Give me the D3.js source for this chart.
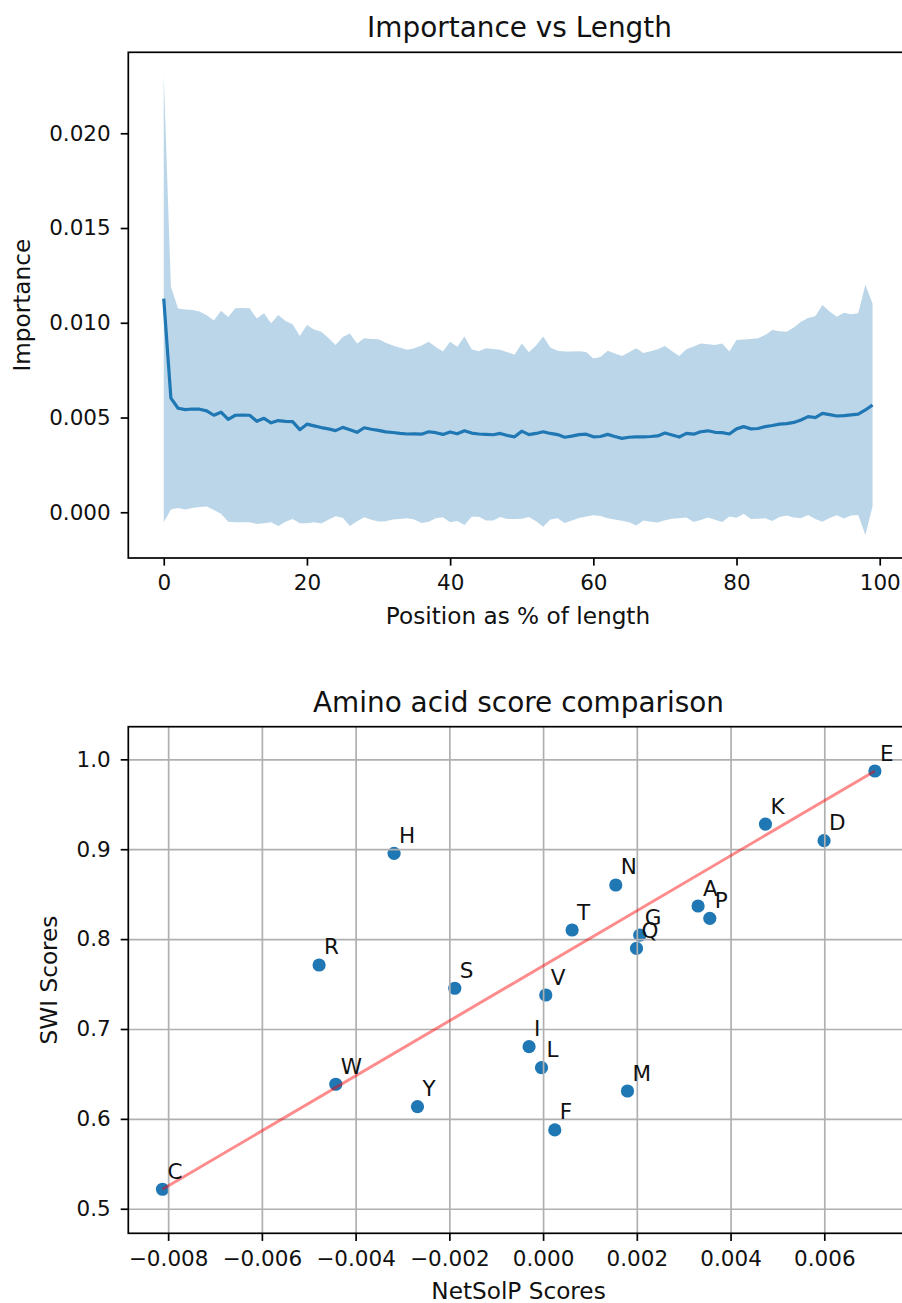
<!DOCTYPE html>
<html>
<head>
<meta charset="utf-8">
<script src="https://cdn.jsdelivr.net/npm/d3@7"></script>
<style>
  body { margin: 0; background: #fff; }
  text { font-family: "DejaVu Sans", sans-serif; fill: #111; }
</style>
</head>
<body>
<script>
// ---- data: importance along the sequence (mean and std per % position) ----
var positions = d3.range(100);
var meanImportance = [
  0.01127, 0.00602, 0.00549, 0.00542, 0.00545, 0.00544, 0.00535, 0.00512, 0.00528, 0.00490,
  0.00512, 0.00513, 0.00512, 0.00480, 0.00496, 0.00472, 0.00484, 0.00480, 0.00478, 0.00436,
  0.00465, 0.00456, 0.00447, 0.00440, 0.00431, 0.00448, 0.00436, 0.00422, 0.00446, 0.00438,
  0.00432, 0.00424, 0.00421, 0.00416, 0.00413, 0.00414, 0.00412, 0.00425, 0.00420, 0.00411,
  0.00424, 0.00414, 0.00430, 0.00418, 0.00413, 0.00411, 0.00409, 0.00416, 0.00405, 0.00398,
  0.00428, 0.00410, 0.00416, 0.00425, 0.00416, 0.00410, 0.00396, 0.00402, 0.00410, 0.00412,
  0.00398, 0.00400, 0.00411, 0.00400, 0.00390, 0.00396, 0.00398, 0.00398, 0.00400, 0.00403,
  0.00418, 0.00408, 0.00397, 0.00416, 0.00412, 0.00425, 0.00430, 0.00422, 0.00420, 0.00413,
  0.00440, 0.00452, 0.00440, 0.00442, 0.00452, 0.00458, 0.00465, 0.00468, 0.00474, 0.00487,
  0.00505, 0.00500, 0.00522, 0.00515, 0.00508, 0.00510, 0.00514, 0.00518, 0.00540, 0.00566
];
var stdImportance = [
  0.01179, 0.00588, 0.00526, 0.00528, 0.00523, 0.00516, 0.00505, 0.00500, 0.00536, 0.00540,
  0.00564, 0.00565, 0.00564, 0.00542, 0.00554, 0.00525, 0.00557, 0.00530, 0.00514, 0.00494,
  0.00523, 0.00509, 0.00506, 0.00480, 0.00452, 0.00477, 0.00508, 0.00469, 0.00472, 0.00477,
  0.00481, 0.00471, 0.00459, 0.00452, 0.00444, 0.00452, 0.00468, 0.00475, 0.00452, 0.00437,
  0.00476, 0.00460, 0.00497, 0.00442, 0.00437, 0.00455, 0.00453, 0.00441, 0.00440, 0.00433,
  0.00462, 0.00435, 0.00464, 0.00502, 0.00454, 0.00442, 0.00452, 0.00446, 0.00440, 0.00434,
  0.00414, 0.00420, 0.00442, 0.00438, 0.00435, 0.00449, 0.00468, 0.00442, 0.00450, 0.00457,
  0.00460, 0.00442, 0.00428, 0.00444, 0.00463, 0.00466, 0.00457, 0.00461, 0.00471, 0.00435,
  0.00469, 0.00460, 0.00475, 0.00476, 0.00483, 0.00504, 0.00490, 0.00485, 0.00501, 0.00519,
  0.00520, 0.00535, 0.00572, 0.00545, 0.00524, 0.00543, 0.00531, 0.00532, 0.00660, 0.00534
];
var posTicks = [0, 20, 40, 60, 80, 100];
var impTicks = [0, 0.005, 0.010, 0.015, 0.020];

// ---- data: amino acid scores ----
var aminoAcids = ["E", "K", "D", "N", "A", "P", "G", "Q", "H", "R", "S", "T", "V", "I", "L", "M", "W", "Y", "F", "C"];
var netsolpScores = [0.00708, 0.004745, 0.005995, 0.001551, 0.003307, 0.003557, 0.002063, 0.001993, -0.003179, -0.004779,
  -0.001884, 0.000619, 0.000058, -0.000299, -0.000034, 0.001801, -0.004423, -0.00268, 0.00025, -0.00812];
var swiScores = [0.987, 0.928, 0.9095, 0.8602, 0.8368, 0.8231, 0.8044, 0.7896, 0.8954, 0.7712,
  0.7453, 0.8101, 0.7378, 0.6803, 0.6570, 0.6310, 0.6385, 0.6136, 0.5877, 0.5217];
var netsolpTicks = [-0.008, -0.006, -0.004, -0.002, 0, 0.002, 0.004, 0.006];
var swiTicks = [0.5, 0.6, 0.7, 0.8, 0.9, 1.0];
var netsolpLimits = [-0.00885, 0.00785];
var swiLimits = [0.4727, 1.0363];

var width = 902, height = 1303;
var blue = "#1f77b4";
var fs = 21.5;      // tick + annotation text
var labelFs = 23.2; // axis labels
var titleFs = 27.9;

var svg = d3.select("body").append("svg")
    .attr("width", width)
    .attr("height", height);

function styleAxis(g) {
  g.select(".domain").remove();
  g.selectAll(".tick line").attr("stroke", "#000").attr("stroke-width", 1.7);
  g.selectAll(".tick text").attr("font-size", fs).attr("fill", "#111")
    .attr("font-family", "DejaVu Sans");
}

// ================= top: Importance vs Length =================
var box1 = {left: 128.3, right: 908, top: 52.3, bottom: 558};
var xPad = (d3.max(positions) - d3.min(positions)) * 0.05;
var x1 = d3.scaleLinear()
    .domain([d3.min(positions) - xPad, d3.max(positions) + xPad])
    .range([box1.left, box1.right]);
var lo = d3.min(positions, function(i) { return meanImportance[i] - stdImportance[i]; });
var hi = d3.max(positions, function(i) { return meanImportance[i] + stdImportance[i]; });
var yPad = (hi - lo) * 0.05;
var y1 = d3.scaleLinear().domain([lo - yPad, hi + yPad]).range([box1.bottom, box1.top]);

var topG = svg.append("g");
topG.append("path")
    .datum(positions)
    .attr("fill", blue)
    .attr("fill-opacity", 0.3)
    .attr("d", d3.area()
      .x(function(i) { return x1(i); })
      .y0(function(i) { return y1(meanImportance[i] - stdImportance[i]); })
      .y1(function(i) { return y1(meanImportance[i] + stdImportance[i]); }));

topG.append("path")
    .datum(positions)
    .attr("fill", "none")
    .attr("stroke", blue)
    .attr("stroke-width", 3.2)
    .attr("stroke-linejoin", "round")
    .attr("d", d3.line()
      .x(function(i) { return x1(i); })
      .y(function(i) { return y1(meanImportance[i]); }));

topG.append("g")
    .attr("transform", "translate(0," + box1.bottom + ")")
    .call(d3.axisBottom(x1).tickValues(posTicks).tickSize(7.6).tickPadding(9.5).tickFormat(d3.format("d")))
    .call(styleAxis);
topG.append("g")
    .attr("transform", "translate(" + box1.left + ",0)")
    .call(d3.axisLeft(y1).tickValues(impTicks).tickSize(7.6).tickPadding(10).tickFormat(d3.format(".3f")))
    .call(styleAxis);

topG.append("rect")
    .attr("x", box1.left).attr("y", box1.top)
    .attr("width", box1.right - box1.left + 4).attr("height", box1.bottom - box1.top)
    .attr("fill", "none").attr("stroke", "#000").attr("stroke-width", 1.7);

topG.append("text")
    .attr("x", 519.5).attr("y", box1.top - 15)
    .attr("text-anchor", "middle").attr("font-size", titleFs)
    .text("Importance vs Length");
topG.append("text")
    .attr("x", 518).attr("y", box1.bottom + 66)
    .attr("text-anchor", "middle").attr("font-size", labelFs)
    .text("Position as % of length");
topG.append("text")
    .attr("transform", "translate(30," + (box1.top + box1.bottom) / 2 + ") rotate(-90)")
    .attr("text-anchor", "middle").attr("font-size", labelFs)
    .text("Importance");

// ================= bottom: Amino acid score comparison =================
var box2 = {left: 128.3, right: 911, top: 726.7, bottom: 1233.3};
var x2 = d3.scaleLinear().domain(netsolpLimits).range([box2.left, box2.right]);
var y2 = d3.scaleLinear().domain(swiLimits).range([box2.bottom, box2.top]);
var pts = d3.range(aminoAcids.length);

var botG = svg.append("g");

botG.selectAll("circle")
    .data(pts)
    .enter()
    .append("circle")
    .attr("cx", function(i) { return x2(netsolpScores[i]); })
    .attr("cy", function(i) { return y2(swiScores[i]); })
    .attr("r", 6.6)
    .attr("fill", blue);

// grid sits above the markers, like matplotlib's default
botG.append("g")
    .attr("transform", "translate(0," + box2.bottom + ")")
    .call(d3.axisBottom(x2).tickValues(netsolpTicks).tickSize(-(box2.bottom - box2.top)).tickFormat(""))
    .call(function(g) {
      g.select(".domain").remove();
      g.selectAll(".tick line").attr("stroke", "#b0b0b0").attr("stroke-width", 1.7);
    });
botG.append("g")
    .attr("transform", "translate(" + box2.left + ",0)")
    .call(d3.axisLeft(y2).tickValues(swiTicks).tickSize(-(box2.right - box2.left)).tickFormat(""))
    .call(function(g) {
      g.select(".domain").remove();
      g.selectAll(".tick line").attr("stroke", "#b0b0b0").attr("stroke-width", 1.7);
    });

// line from the lowest to the highest scores
var xExt = d3.extent(netsolpScores), yExt = d3.extent(swiScores);
botG.append("line")
    .attr("x1", x2(xExt[0])).attr("y1", y2(yExt[0]))
    .attr("x2", x2(xExt[1])).attr("y2", y2(yExt[1]))
    .attr("stroke", "red").attr("stroke-opacity", 0.45).attr("stroke-width", 3);

botG.selectAll("text.aa")
    .data(pts)
    .enter()
    .append("text")
    .attr("class", "aa")
    .attr("x", function(i) { return x2(netsolpScores[i]) + 5; })
    .attr("y", function(i) { return y2(swiScores[i]) - 10.5; })
    .attr("font-size", fs)
    .text(function(i) { return aminoAcids[i]; });

botG.append("g")
    .attr("transform", "translate(0," + box2.bottom + ")")
    .call(d3.axisBottom(x2).tickValues(netsolpTicks).tickSize(7.6).tickPadding(9.5).tickFormat(d3.format(".3f")))
    .call(styleAxis);
botG.append("g")
    .attr("transform", "translate(" + box2.left + ",0)")
    .call(d3.axisLeft(y2).tickValues(swiTicks).tickSize(7.6).tickPadding(10).tickFormat(d3.format(".1f")))
    .call(styleAxis);

botG.append("rect")
    .attr("x", box2.left).attr("y", box2.top)
    .attr("width", box2.right - box2.left).attr("height", box2.bottom - box2.top)
    .attr("fill", "none").attr("stroke", "#000").attr("stroke-width", 1.7);

botG.append("text")
    .attr("x", 518.5).attr("y", box2.top - 15)
    .attr("text-anchor", "middle").attr("font-size", titleFs)
    .text("Amino acid score comparison");
botG.append("text")
    .attr("x", 518.5).attr("y", box2.bottom + 65.5)
    .attr("text-anchor", "middle").attr("font-size", labelFs)
    .text("NetSolP Scores");
botG.append("text")
    .attr("transform", "translate(57," + (box2.top + box2.bottom) / 2 + ") rotate(-90)")
    .attr("text-anchor", "middle").attr("font-size", labelFs)
    .text("SWI Scores");
</script>
</body>
</html>
